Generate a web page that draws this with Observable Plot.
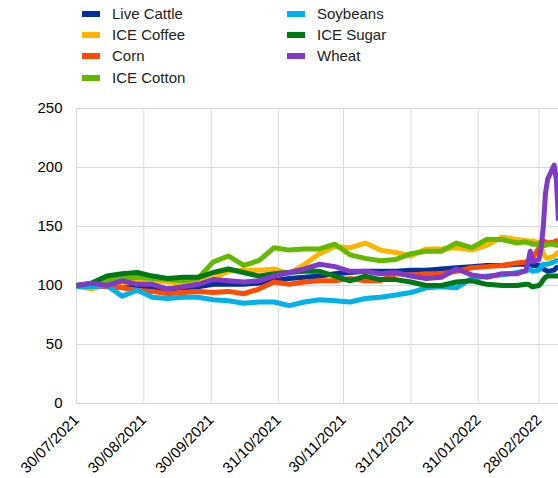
<!DOCTYPE html>
<html>
<head>
<meta charset="utf-8">
<script src="https://cdn.jsdelivr.net/npm/d3@7"></script>
<script src="https://cdn.jsdelivr.net/npm/@observablehq/plot@0.6"></script>
<style>
  html, body { margin: 0; padding: 0; background: #fff; }
  body { width: 558px; height: 478px; overflow: hidden; font-family: "Liberation Sans", Arial, sans-serif; }
  #legend { position: relative; height: 95px; width: 558px; }
  .item { position: absolute; display: flex; align-items: center; font-size: 15px; color: #222; white-space: nowrap; }
  .sw { width: 18px; height: 6px; margin-right: 12px; }
  #chart svg { display: block; }
</style>
</head>
<body>
<div id="legend"></div>
<div id="chart"></div>
<script>
const dates = ["2021-07-30","2021-08-06","2021-08-13","2021-08-20","2021-08-27","2021-09-03","2021-09-10","2021-09-17","2021-09-24","2021-10-01","2021-10-08","2021-10-15","2021-10-22","2021-10-29","2021-11-05","2021-11-12","2021-11-19","2021-11-26","2021-12-03","2021-12-10","2021-12-17","2021-12-24","2021-12-31","2022-01-07","2022-01-14","2022-01-21","2022-01-28","2022-02-04","2022-02-11","2022-02-18","2022-02-22","2022-02-23","2022-02-24","2022-02-25","2022-02-28","2022-03-01","2022-03-02","2022-03-03","2022-03-04","2022-03-07","2022-03-08","2022-03-09"];

const liveCattle = [100,100,101,101,99,98,97,98,99,101,101,101,102,104,106,107,108,110,111,112,112,112,113,113,114,115,116,117,117,118, 118,118,118,117,117,116,114,113,112,113,115,116];
const iceCoffee  = [100,97,101,102,103,104,103,102,104,106,112,113,113,114,110,118,127,133,132,136,130,128,125,131,131,132,130,134,141,139, 138,138,137,138,136,133,127,124,123,125,127,128];
const corn       = [100,100,99,98,96,95,93,94,95,94,95,93,97,103,101,103,104,104,106,104,104,110,109,110,110,112,115,116,117,119, 120,121,122,123,132,137,138,137,136,137,138,137];
const iceCotton  = [100,101,104,106,107,106,105,104,106,120,125,117,121,132,130,131,131,135,126,123,121,122,127,129,129,136,132,139,139,136, 137,136,136,135,135,134,134,134,135,135,134,135];
const soybeans   = [99,99,100,91,96,90,89,90,90,88,87,85,86,86,83,86,88,87,86,89,90,92,94,98,99,98,106,108,109,111, 112,113,114,112,113,116,118,118,118,120,121,121];
const iceSugar   = [100,102,108,110,111,108,106,107,107,111,114,111,108,110,111,112,112,108,104,108,105,105,103,100,100,103,104,101,100,100, 101,101,100,99,100,102,105,107,108,108,108,108];
const wheat      = [100,102,100,104,101,101,97,99,101,105,104,103,104,108,111,114,118,116,112,112,110,111,108,106,107,114,109,107,110,110, 113,120,129,120,122,132,150,178,190,202,190,155];

const seriesNames  = ["Live Cattle","ICE Coffee","Corn","ICE Cotton","Soybeans","ICE Sugar","Wheat"];
const seriesValues = [liveCattle, iceCoffee, corn, iceCotton, soybeans, iceSugar, wheat];
const seriesColors = ["#003299","#FFB400","#FF4B00","#65B800","#00B1EA","#007816","#8139C7"];

const tickDates = ["2021-07-30","2021-08-30","2021-09-30","2021-10-31","2021-11-30","2021-12-31","2022-01-31","2022-02-28"];
const yTicks = [0,50,100,150,200,250];
const xDomain = ["2021-07-30","2022-03-09"];

// Legend (HTML, above the SVG)
const legendPos = [[82,14],[82,35],[82,56],[82,78],[287,14],[287,35],[287,56]];
const legend = document.getElementById("legend");
seriesNames.forEach((name, i) => {
  const it = document.createElement("div");
  it.className = "item";
  it.style.left = legendPos[i][0] + "px";
  it.style.top = (legendPos[i][1] - 9) + "px";
  it.innerHTML = `<span class="sw" style="background:${seriesColors[i]}"></span><span>${name}</span>`;
  legend.appendChild(it);
});

const parse = d3.utcParse("%Y-%m-%d");
const data = [];
seriesNames.forEach((name, i) => {
  dates.forEach((d, j) => data.push({series: name, date: parse(d), value: seriesValues[i][j]}));
});

const chart = Plot.plot({
  width: 558,
  height: 383,
  marginTop: 13,
  marginBottom: 75,
  marginLeft: 76,
  marginRight: 0,
  style: {fontFamily: "'Liberation Sans', Arial, sans-serif", fontSize: "15px", color: "#000", background: "#fff"},
  x: {type: "utc", domain: xDomain.map(parse)},
  y: {domain: [0, 250]},
  color: {domain: seriesNames, range: seriesColors},
  marks: [
    Plot.ruleX(tickDates.map(parse), {stroke: "#d9d9d9", strokeWidth: 1}),
    Plot.ruleY(yTicks, {stroke: "#d9d9d9", strokeWidth: 1}),
    Plot.axisY({ticks: yTicks, tickSize: 0, tickPadding: 14, label: null}),
    Plot.axisX({ticks: tickDates.map(parse), tickFormat: d3.utcFormat("%d/%m/%Y"), tickRotate: -45, tickSize: 0, tickPadding: 14, label: null}),
    Plot.line(data, {x: "date", y: "value", z: "series", stroke: "series", strokeWidth: 5, strokeLinejoin: "round", strokeLinecap: "butt"})
  ]
});
document.getElementById("chart").appendChild(chart);
</script>
</body>
</html>
